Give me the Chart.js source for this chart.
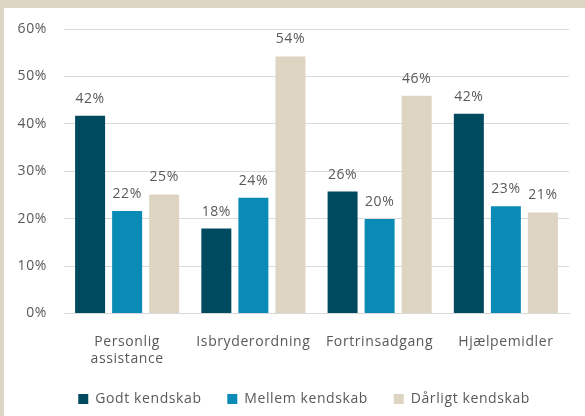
<!DOCTYPE html>
<html>
<head>
<meta charset="utf-8">
<script src="https://cdn.jsdelivr.net/npm/chart.js@4"></script>
<style>
    html, body { margin: 0; padding: 0; background: #ddd5c3; }
    #wrap { position: absolute; left: 4px; top: 8px; width: 581px; height: 408px; background: #fff; }
</style>
</head>
<body>
<div id="wrap"><canvas id="barChart"></canvas></div>
<script>
// chart data
const categories = [['Personlig', 'assistance'], 'Isbryderordning', 'Fortrinsadgang', 'Hjælpemidler'];
const seriesNames = ['Godt kendskab', 'Mellem kendskab', 'Dårligt kendskab'];
const godt = [41.7, 17.9, 25.7, 42.1];
const mellem = [21.6, 24.4, 19.9, 22.6];
const daarligt = [25.1, 54.2, 45.9, 21.3];
const yTicks = [0, 10, 20, 30, 40, 50, 60];

const colors = ['#004a60', '#0a8bb5', '#ddd5c2'];
const textColor = '#595959';
const fontFamily = '"Open Sans", sans-serif';
const spacing = '0.6px';

// the original text is set a little wider than Open Sans
const wideText = {
    id: 'wideText',
    beforeUpdate(chart) { chart.ctx.letterSpacing = spacing; },
    beforeDraw(chart) { chart.ctx.letterSpacing = spacing; },
    // legend sits a bit right of centre in the original
    afterLayout(chart) {
        if (chart.legend) {
            chart.legend.left += 19;
            chart.legend.right += 19;
        }
    }
};

// draw the percentage above each bar
const valueLabels = {
    id: 'valueLabels',
    afterDatasetsDraw(chart) {
        const ctx = chart.ctx;
        ctx.save();
        ctx.font = '14px ' + fontFamily;
        ctx.fillStyle = textColor;
        ctx.textAlign = 'center';
        ctx.textBaseline = 'bottom';
        chart.data.datasets.forEach(function(ds, i) {
            chart.getDatasetMeta(i).data.forEach(function(bar, j) {
                ctx.fillText(Math.round(ds.data[j]) + '%', bar.x, bar.y - 10);
            });
        });
        ctx.restore();
    }
};

const ctx = document.getElementById('barChart');
new Chart(ctx, {
    type: 'bar',
    data: {
        labels: categories,
        datasets: [godt, mellem, daarligt].map(function(values, i) {
            return {
                label: seriesNames[i],
                data: values,
                backgroundColor: colors[i],
                borderWidth: 0,
                barPercentage: 0.81,
                categoryPercentage: 0.88
            };
        })
    },
    options: {
        responsive: true,
        maintainAspectRatio: false,
        animation: false,
        layout: { padding: { left: 10, right: 16, top: 21, bottom: 0 } },
        plugins: {
            legend: {
                position: 'bottom',
                labels: {
                    boxWidth: 10,
                    boxHeight: 10,
                    padding: 13,
                    color: textColor,
                    font: { family: fontFamily, size: 14 },
                    generateLabels: function(chart) {
                        // extra room after each entry, as in the original
                        return Chart.defaults.plugins.legend.labels.generateLabels(chart).map(function(item) {
                            item.text = item.text + '   ';
                            return item;
                        });
                    }
                }
            },
            tooltip: { enabled: false }
        },
        scales: {
            x: {
                grid: { display: false },
                border: { color: '#d9d9d9', width: 1 },
                ticks: {
                    color: textColor,
                    padding: 12,
                    maxRotation: 0,
                    font: { family: fontFamily, size: 14, lineHeight: 1.2 }
                }
            },
            y: {
                min: 0,
                max: 60,
                afterBuildTicks: function(axis) {
                    axis.ticks = yTicks.map(function(v) { return { value: v }; });
                },
                afterFit: function(axis) {
                    axis.width = 50;
                    axis.paddingTop = 0;
                    axis.paddingBottom = 0;
                },
                grid: { color: '#d9d9d9', drawTicks: false },
                border: { display: false },
                ticks: {
                    color: textColor,
                    padding: 17,
                    font: { family: fontFamily, size: 14 },
                    callback: function(v) { return v + '%'; }
                }
            }
        }
    },
    plugins: [wideText, valueLabels]
});
</script>
</body>
</html>
